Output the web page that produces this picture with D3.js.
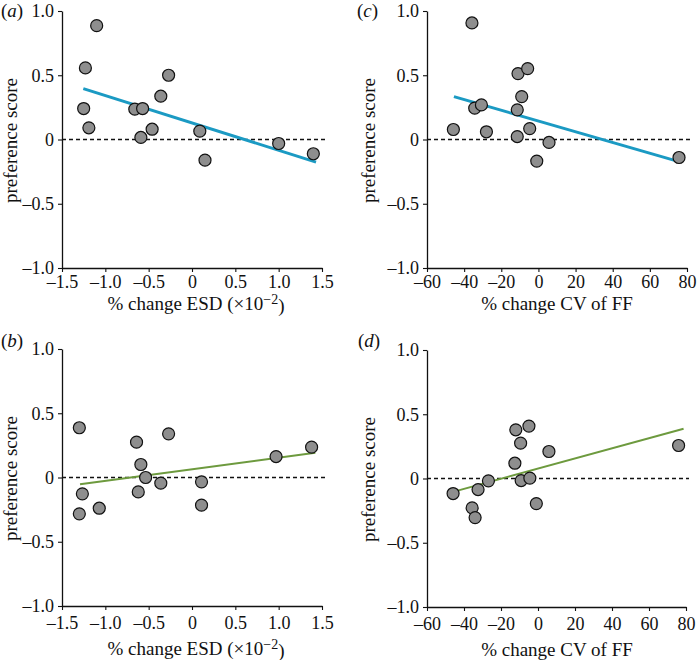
<!DOCTYPE html>
<html>
<head>
<meta charset="utf-8">
<script src="https://cdn.jsdelivr.net/npm/d3@7"></script>
<style>
  html, body { margin: 0; padding: 0; background: #fff; }
  svg { display: block; }
  svg text { font-family: "Liberation Serif", "DejaVu Serif", serif !important; fill: #111; }
</style>
</head>
<body>
<svg id="chart" width="697" height="660"></svg>
<script>
// ---- data ----
const esdTicks = [-1.5, -1.0, -0.5, 0, 0.5, 1.0, 1.5];
const esdTickLabels = ["–1.5", "–1.0", "–0.5", "0", "0.5", "1.0", "1.5"];
const cvTicks = [-60, -40, -20, 0, 20, 40, 60, 80];
const cvTickLabels = ["–60", "–40", "–20", "0", "20", "40", "60", "80"];
const yTicks = [-1.0, -0.5, 0, 0.5, 1.0];
const yTickLabels = ["–1.0", "–0.5", "0", "0.5", "1.0"];

// panel (a): ESD vs preference
const aX = [-1.10, -1.23, -1.25, -1.19, -0.66, -0.57, -0.59, -0.46, -0.36, -0.27, 0.09, 0.15, 1.00, 1.40];
const aY = [0.886, 0.557, 0.241, 0.091, 0.236, 0.241, 0.016, 0.080, 0.337, 0.500, 0.065, -0.161, -0.031, -0.111];
const aFitX = [-1.254, 1.431];
const aFitY = [0.396, -0.176];

// panel (b): ESD vs preference
const bX = [-1.30, -1.265, -1.30, -1.07, -0.64, -0.59, -0.535, -0.62, -0.36, -0.27, 0.11, 0.11, 0.97, 1.38];
const bY = [0.387, -0.127, -0.283, -0.239, 0.275, 0.101, 0.0, -0.112, -0.044, 0.340, -0.034, -0.215, 0.163, 0.236];
const bFitX = [-1.292, 1.423];
const bFitY = [-0.052, 0.192];

// panel (c): CV of FF vs preference
const cX = [-35.8, -45.8, -34.3, -30.7, -28.0, -11.0, -5.8, -9.0, -11.4, -11.4, -4.7, -0.9, 5.7, 75.7];
const cY = [0.907, 0.078, 0.244, 0.269, 0.060, 0.513, 0.552, 0.334, 0.231, 0.023, 0.085, -0.168, -0.023, -0.140];
const cFitX = [-45.5, 76.1];
const cFitY = [0.334, -0.174];

// panel (d): CV of FF vs preference
const dX = [-45.9, -35.6, -34.0, -32.4, -26.8, -12.0, -4.9, -9.4, -12.5, -9.1, -4.4, -0.9, 5.9, 76.0];
const dY = [-0.117, -0.229, -0.304, -0.086, -0.018, 0.379, 0.408, 0.275, 0.119, -0.016, 0.003, -0.195, 0.210, 0.257];
const dFitX = [-45.9, 78.7];
const dFitY = [-0.104, 0.387];

const blue = "#1b9ac3";
const green = "#6d9a3e";
const FONT = '"Liberation Serif", "DejaVu Serif", serif';

const panels = [
  { tag: "a", xs: aX, ys: aY, fx: aFitX, fy: aFitY, xt: esdTicks, xl: esdTickLabels, xDom: [-1.5, 1.5],
    left: 62, right: 322, top: 11, bottom: 268, title: "esd", color: blue, lw: 3,
    labX: 1, labY: 17, yTitleX: 17, tickBase: 287.5, titleBase: 310, titleCx: 196 },
  { tag: "c", xs: cX, ys: cY, fx: cFitX, fy: cFitY, xt: cvTicks, xl: cvTickLabels, xDom: [-60, 80],
    left: 427, right: 687, top: 11, bottom: 268, title: "cv", color: blue, lw: 3,
    labX: 357, labY: 17, yTitleX: 375, tickBase: 287.5, titleBase: 310, titleCx: 557 },
  { tag: "b", xs: bX, ys: bY, fx: bFitX, fy: bFitY, xt: esdTicks, xl: esdTickLabels, xDom: [-1.5, 1.5],
    left: 62, right: 322, top: 349, bottom: 606, title: "esd", color: green, lw: 2,
    labX: 1, labY: 347, yTitleX: 17, tickBase: 629, titleBase: 655, titleCx: 196 },
  { tag: "d", xs: dX, ys: dY, fx: dFitX, fy: dFitY, xt: cvTicks, xl: cvTickLabels, xDom: [-60, 80],
    left: 427, right: 686, top: 350, bottom: 607, title: "cv", color: green, lw: 2,
    labX: 358, labY: 347, yTitleX: 375, tickBase: 630, titleBase: 656, titleCx: 557 }
];

const svg = d3.select("#chart");

panels.forEach(p => {
  const x = d3.scaleLinear().domain(p.xDom).range([p.left, p.right]);
  const y = d3.scaleLinear().domain([-1, 1]).range([p.bottom, p.top]);
  const g = svg.append("g");

  // dashed zero line
  g.append("line")
    .attr("x1", x(p.xDom[0])).attr("x2", x(p.xDom[1]) + 3)
    .attr("y1", y(0)).attr("y2", y(0))
    .attr("stroke", "#111").attr("stroke-width", 1.4)
    .attr("stroke-dasharray", "4,3");

  // axes
  const xAxis = d3.axisBottom(x).tickValues(p.xt)
    .tickFormat((d, i) => p.xl[i]).tickSize(4).tickSizeOuter(0).tickPadding(4);
  const gx = g.append("g").attr("transform", `translate(0,${p.bottom})`).call(xAxis);
  const yAxis = d3.axisLeft(y).tickValues(yTicks)
    .tickFormat((d, i) => yTickLabels[i]).tickSize(4).tickSizeOuter(0).tickPadding(4);
  const gy = g.append("g").attr("transform", `translate(${p.left},0)`).call(yAxis);

  [gx, gy].forEach(ax => {
    ax.attr("font-family", FONT).attr("font-size", 18);
    ax.select(".domain").attr("stroke", "#111").attr("stroke-width", 1.3);
    ax.selectAll(".tick line").attr("stroke", "#111").attr("stroke-width", 1.1);
    ax.selectAll(".tick text")
      .attr("font-family", FONT)
      .attr("font-size", 18).attr("fill", "#111");
  });
  gx.selectAll(".tick text").attr("dy", null)
    .attr("y", p.tickBase - p.bottom);
  gy.selectAll(".tick text").attr("dy", "0.33em");

  // regression line
  const fit = p.fx.map((v, i) => [v, p.fy[i]]);
  g.append("path")
    .datum(fit)
    .attr("d", d3.line().x(d => x(d[0])).y(d => y(d[1])))
    .attr("fill", "none").attr("stroke", p.color).attr("stroke-width", p.lw);

  // points
  const pts = p.xs.map((v, i) => [v, p.ys[i]]);
  g.selectAll("circle.pt").data(pts).enter().append("circle")
    .attr("class", "pt")
    .attr("cx", d => x(d[0])).attr("cy", d => y(d[1]))
    .attr("r", 6)
    .attr("fill", "#8e8e8e").attr("stroke", "#111").attr("stroke-width", 1.2);

  // panel label
  const lab = g.append("text").attr("x", p.labX).attr("y", p.labY)
    .attr("font-family", FONT).attr("font-size", 19);
  lab.append("tspan").text("(");
  lab.append("tspan").attr("font-style", "italic").text(p.tag);
  lab.append("tspan").text(")");

  // y-axis title
  g.append("text")
    .attr("transform", `translate(${p.yTitleX},${(p.top + p.bottom) / 2 + 1}) rotate(-90)`)
    .attr("text-anchor", "middle")
    .attr("font-family", FONT).attr("font-size", 19)
    .text("preference score");

  // x-axis title
  const xt = g.append("text")
    .attr("x", p.titleCx)
    .attr("y", p.titleBase)
    .attr("text-anchor", "middle")
    .attr("font-family", FONT).attr("font-size", 19);
  if (p.title === "esd") {
    xt.append("tspan").text("% change ESD (×10");
    xt.append("tspan").attr("dy", "-0.45em").attr("font-size", 14).text("−2");
    xt.append("tspan").attr("dy", "0.45em").text(")");
  } else {
    xt.text("% change CV of FF");
  }
});
</script>
</body>
</html>
